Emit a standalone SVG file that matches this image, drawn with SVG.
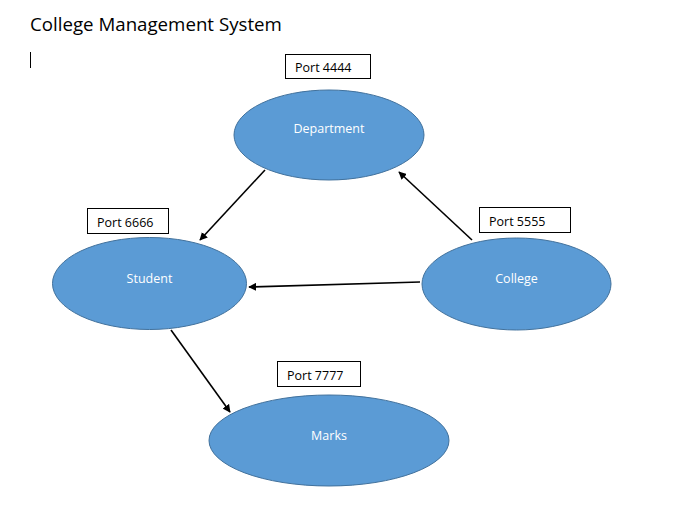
<svg xmlns="http://www.w3.org/2000/svg" width="681" height="505" viewBox="0 0 681 505">
<style>
.node{fill:#5B9BD5;stroke:#41719C;stroke-width:1}
.lbl{font-family:"Open Sans","Liberation Sans",sans-serif;font-size:12.5px;fill:#ffffff;text-anchor:middle}
.port{fill:#ffffff;stroke:#000000;stroke-width:1}
.ptxt{font-family:"Open Sans","Liberation Sans",sans-serif;font-size:12.5px;fill:#000000}
.edge{stroke:#000000;stroke-width:1.6;fill:none;marker-end:url(#ah)}
</style>
<defs>
<marker id="ah" viewBox="0 0 10 10" refX="9" refY="5" markerWidth="5" markerHeight="5" orient="auto" markerUnits="strokeWidth">
<path d="M0,0 L10,5 L0,10 z" fill="#000000"/>
</marker>
</defs>
<rect width="681" height="505" fill="#ffffff"/>
<text x="30" y="31" font-family="'Open Sans','Liberation Sans',sans-serif" font-size="18.7px" fill="#000000">College Management System</text>
<line x1="30.5" y1="52" x2="30.5" y2="68" stroke="#000000" stroke-width="1"/>
<g id="connectors">
<line class="edge" x1="265" y1="170" x2="200" y2="240"/>
<line class="edge" x1="472" y1="240" x2="399" y2="172"/>
<line class="edge" x1="420" y1="282" x2="249" y2="287"/>
<line class="edge" x1="171" y1="330" x2="230" y2="412"/>
</g>
<g id="department">
<ellipse class="node" cx="329" cy="135" rx="95" ry="45"/>
<text class="lbl" x="329" y="133">Department</text>
</g>
<g id="port4444">
<rect class="port" x="285.5" y="54.5" width="85" height="24"/>
<text class="ptxt" x="295" y="72">Port 4444</text>
</g>
<g id="student">
<ellipse class="node" cx="149.5" cy="283.5" rx="97" ry="46"/>
<text class="lbl" x="149.5" y="283">Student</text>
</g>
<g id="port6666">
<rect class="port" x="87.5" y="208.5" width="81" height="25"/>
<text class="ptxt" x="97" y="227">Port 6666</text>
</g>
<g id="college">
<ellipse class="node" cx="516.5" cy="284" rx="94.5" ry="46"/>
<text class="lbl" x="516.5" y="283">College</text>
</g>
<g id="port5555">
<rect class="port" x="479.5" y="207.5" width="91" height="25"/>
<text class="ptxt" x="489" y="226">Port 5555</text>
</g>
<g id="marks">
<ellipse class="node" cx="329" cy="440.5" rx="120" ry="45.5"/>
<text class="lbl" x="329" y="440">Marks</text>
</g>
<g id="port7777">
<rect class="port" x="277.5" y="361.5" width="83" height="25"/>
<text class="ptxt" x="287" y="380">Port 7777</text>
</g>
</svg>
